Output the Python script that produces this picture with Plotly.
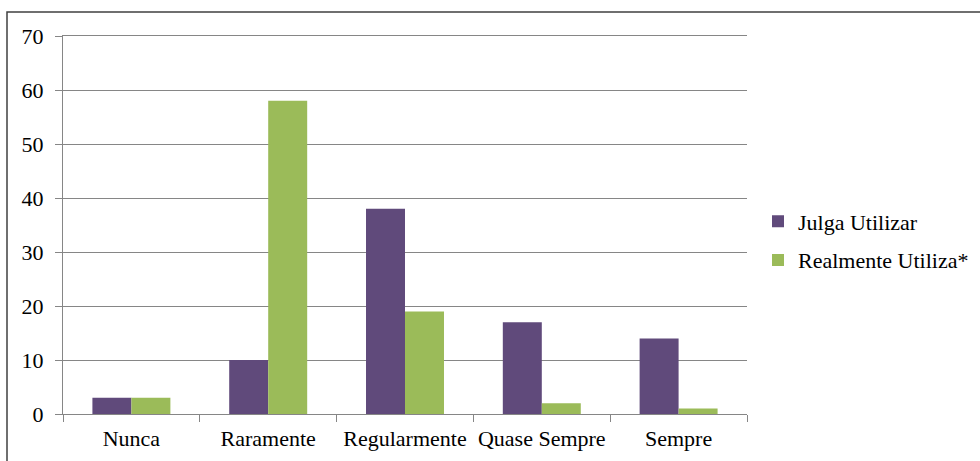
import plotly.graph_objects as go

categories = ["Nunca", "Raramente", "Regularmente", "Quase Sempre", "Sempre"]
julga_utilizar = [3, 10, 38, 17, 14]
realmente_utiliza = [3, 58, 19, 2, 1]
y_ticks = [0, 10, 20, 30, 40, 50, 60, 70]

W, H = 980, 461
L, R, T, B = 63, 233, 36, 47
pw, ph = W - L - R, H - T - B

def px_x(p):
    return (p - L) / pw

def px_y(p):
    return (H - B - p) / ph

font = dict(family="Liberation Serif, Times New Roman, serif", size=22, color="#000000")

fig = go.Figure()
fig.add_trace(go.Bar(name="Julga Utilizar", x=categories, y=julga_utilizar,
                     marker=dict(color="#604A7B", line=dict(width=0)),
                     legendgroup="a"))
fig.add_trace(go.Bar(name="Realmente Utiliza*", x=categories, y=realmente_utiliza,
                     marker=dict(color="#9BBB59", line=dict(width=0)),
                     legendgroup="b"))

# outer chart frame
fig.add_shape(type="rect", xref="paper", yref="paper",
              x0=px_x(7), x1=px_x(990), y0=px_y(12), y1=px_y(480),
              line=dict(color="#404040", width=1.5), layer="below")

fig.update_layout(
    width=W, height=H,
    margin=dict(l=L, r=R, t=T, b=B, autoexpand=False),
    paper_bgcolor="white", plot_bgcolor="white",
    barmode="group", bargap=0.43, bargroupgap=0,
    font=font,
    showlegend=True,
    legend=dict(x=px_x(758), y=px_y(241), xanchor="left", yanchor="middle",
                font=font, tracegroupgap=7, bgcolor="rgba(0,0,0,0)"),
    xaxis=dict(showgrid=False, showline=True, linecolor="#868686", linewidth=1,
               mirror=True, automargin=False, tickangle=0,
               ticks="outside", ticklen=7, tickcolor="#868686",
               tickson="boundaries", tickfont=font, ticklabelstandoff=5),
    yaxis=dict(range=[0, 70], tickvals=y_ticks, showgrid=True, gridcolor="#868686",
               gridwidth=1, showline=True, linecolor="#868686", linewidth=1,
               automargin=False,
               ticks="outside", ticklen=7, tickcolor="#868686", zeroline=False,
               tickfont=font, ticklabelstandoff=7),
)

fig.write_html("out.html")
